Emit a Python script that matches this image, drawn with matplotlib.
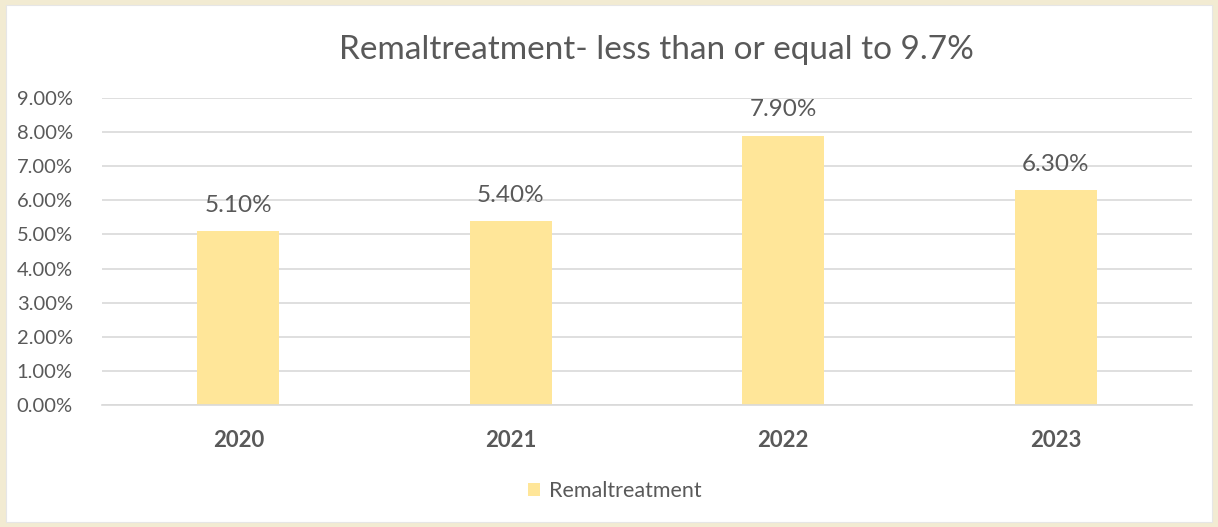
import matplotlib.pyplot as plt
from matplotlib.patches import Rectangle
from matplotlib.ticker import FuncFormatter

# data
years = ["2020", "2021", "2022", "2023"]
rates = [5.10, 5.40, 7.90, 6.30]
series_name = "Remaltreatment"
title = "Remaltreatment- less than or equal to 9.7%"

BAR_COLOR = "#FFE699"
TEXT_COLOR = "#595959"
GRID_COLOR = "#D9D9D9"
BORDER_COLOR = "#F2EBD2"

plt.rcParams["font.family"] = ["Lato", "DejaVu Sans"]

W, H = 1218, 527
fig = plt.figure(figsize=(W / 100, H / 100), dpi=100)
fig.patch.set_facecolor(BORDER_COLOR)

# white chart panel inside the beige frame
fig.patches.append(Rectangle(
    (6 / W, 5 / H), 1206 / W, 517 / H,
    transform=fig.transFigure, facecolor="white",
    edgecolor="#E6E6E6", linewidth=0.8, zorder=-10,
))

ax = fig.add_axes([102 / W, (H - 405) / H, 1090 / W, (405 - 98) / H])
ax.set_facecolor("none")

x = range(len(years))
bars = ax.bar(x, rates, width=0.30, color=BAR_COLOR, zorder=2, label=series_name)

for rect, val in zip(bars, rates):
    ax.annotate(f"{val:.2f}%", (rect.get_x() + rect.get_width() / 2, val),
                xytext=(0, 11), textcoords="offset points",
                ha="center", va="bottom", fontsize=17.5, color=TEXT_COLOR)

ax.set_xlim(-0.5, len(years) - 0.5)
ax.set_ylim(0, 9)
ax.set_yticks(range(0, 10))
ax.yaxis.set_major_formatter(FuncFormatter(lambda v, _: f"{v:.2f}%"))
ax.set_xticks(list(x))
ax.set_xticklabels(years, fontsize=16, fontweight="bold", color=TEXT_COLOR)

ax.grid(axis="y", color=GRID_COLOR, linewidth=1.2, zorder=0)
ax.tick_params(axis="y", length=0, labelsize=14.5, labelcolor=TEXT_COLOR, pad=21)
ax.tick_params(axis="x", length=0, pad=18)
for side in ["top", "right", "left"]:
    ax.spines[side].set_visible(False)
ax.spines["bottom"].set_color(GRID_COLOR)
ax.spines["bottom"].set_linewidth(1.2)

fig.text(656 / W, 1 - 50 / H, title, ha="center", va="center",
         fontsize=24, color=TEXT_COLOR)

fig.legend(handles=[bars], labels=[series_name], loc="center",
           bbox_to_anchor=(615 / W, 1 - 491 / H), frameon=False,
           fontsize=15.5, labelcolor=TEXT_COLOR, handlelength=0.55,
           handleheight=0.55, handletextpad=0.4)

fig.savefig("out.png", dpi=100, facecolor=fig.get_facecolor())
